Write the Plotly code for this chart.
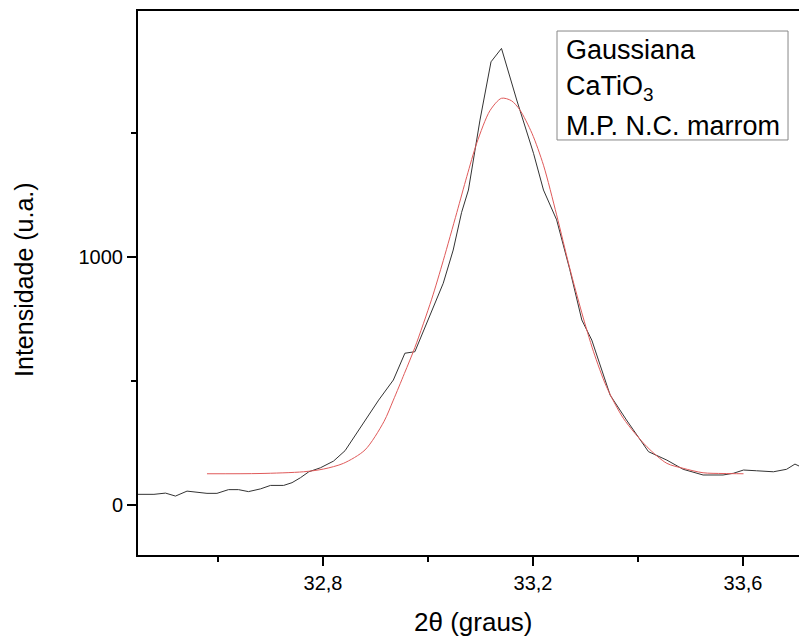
import plotly.graph_objects as go

# Measured XRD profile around the CaTiO3 (121) reflection
two_theta_obs = [32.446, 32.478, 32.500, 32.519, 32.541, 32.579, 32.598, 32.620,
                 32.639, 32.658, 32.681, 32.700, 32.725, 32.741, 32.757, 32.773,
                 32.795, 32.820, 32.842, 32.862, 32.884, 32.906, 32.934, 32.956,
                 32.975, 33.004, 33.029, 33.048, 33.064, 33.077, 33.099, 33.120,
                 33.140, 33.169, 33.201, 33.220, 33.245, 33.270, 33.293, 33.312,
                 33.347, 33.378, 33.420, 33.455, 33.486, 33.524, 33.562, 33.582,
                 33.601, 33.626, 33.658, 33.683, 33.699, 33.707]
intensity_obs = [43, 43, 48, 36, 56, 47, 47, 62,
                 62, 54, 65, 79, 79, 90, 110, 134,
                 150, 177, 219, 282, 350, 423, 504, 612,
                 618, 770, 894, 1028, 1180, 1270, 1552, 1787,
                 1841, 1633, 1418, 1270, 1150, 950, 746, 665,
                 443, 343, 215, 181, 144, 121, 121, 128,
                 141, 138, 134, 144, 165, 157]

# Gaussian fit of the same peak
two_theta_fit = [32.579, 32.680, 32.763, 32.801, 32.839, 32.880, 32.916, 32.934,
                 32.955, 32.975, 33.007, 33.029, 33.055, 33.074, 33.093, 33.118,
                 33.140, 33.159, 33.175, 33.198, 33.220, 33.245, 33.270, 33.293,
                 33.315, 33.340, 33.372, 33.417, 33.455, 33.486, 33.524, 33.562,
                 33.601]
intensity_fit = [126, 127, 134, 145, 168, 222, 336, 423,
                 530, 635, 830, 985, 1180, 1325, 1460, 1590,
                 1640, 1630, 1593, 1499, 1370, 1170, 955, 775,
                 620, 477, 350, 235, 168, 148, 130, 127,
                 126]

x_tick_vals = [32.8, 33.2, 33.6]
x_tick_labels = ["32,8", "33,2", "33,6"]
y_tick_vals = [0, 1000]
y_tick_labels = ["0", "1000"]

legend_lines = ["Gaussiana", "CaTiO<sub>3</sub>", "M.P. N.C. marrom"]

FONT = "Liberation Sans, Arial, sans-serif"

fig = go.Figure()
fig.add_trace(go.Scatter(x=two_theta_obs, y=intensity_obs, mode="lines",
                         line=dict(color="#333333", width=1), showlegend=False))
fig.add_trace(go.Scatter(x=two_theta_fit, y=intensity_fit, mode="lines",
                         line=dict(color="#e05a5a", width=1, shape="spline",
                                   smoothing=0.8),
                         showlegend=False))

axis_common = dict(showgrid=False, zeroline=False, showline=True,
                   linecolor="black", linewidth=2, ticks="outside",
                   tickcolor="black", tickwidth=2, ticklen=9,
                   tickfont=dict(family=FONT, size=20, color="black"))

fig.update_xaxes(range=[32.4476, 33.7067], tickvals=x_tick_vals,
                 ticktext=x_tick_labels, mirror=True,
                 minor=dict(ticks="outside", ticklen=5, tickwidth=2,
                            tickcolor="black", tickvals=[32.6, 33.0, 33.4]),
                 **axis_common)
fig.update_yaxes(range=[-201.6, 1991.9], tickvals=y_tick_vals,
                 ticktext=y_tick_labels, mirror=False,
                 minor=dict(ticks="outside", ticklen=5, tickwidth=2,
                            tickcolor="black", tickvals=[500, 1500]),
                 **axis_common)

# Text box in the upper right corner
fig.add_shape(type="rect", xref="paper", yref="paper",
              x0=0.6339, x1=0.9834, y0=0.7629, y1=0.9632,
              line=dict(color="#888888", width=1), fillcolor="rgba(0,0,0,0)")
for line_text, ypos in zip(legend_lines, [0.9283, 0.8585, 0.7886]):
    fig.add_annotation(text=line_text, xref="paper", yref="paper",
                       x=0.6445, y=ypos, xanchor="left", yanchor="middle",
                       showarrow=False,
                       font=dict(family=FONT, size=27, color="black"))

# Axis titles
fig.add_annotation(text="Intensidade (u.a.)", xref="paper", yref="paper",
                   x=-0.1725, y=0.5074, textangle=-90, xanchor="center",
                   yanchor="middle", showarrow=False,
                   font=dict(family=FONT, size=25, color="black"))
fig.add_annotation(text="2θ (graus)", xref="paper", yref="paper",
                   x=0.5076, y=-0.1232, xanchor="center", yanchor="middle",
                   showarrow=False,
                   font=dict(family=FONT, size=26, color="black"))

fig.update_layout(width=799, height=640,
                  margin=dict(l=138, r=0, t=11, b=85),
                  plot_bgcolor="white", paper_bgcolor="white")

fig.write_html("out.html")
